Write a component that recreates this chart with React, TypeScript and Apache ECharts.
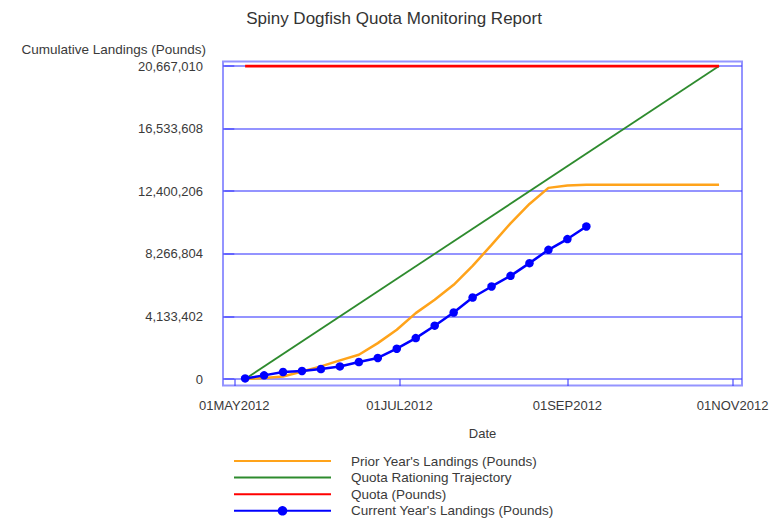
import React, { useEffect, useRef } from "react";
import * as echarts from "echarts";

const FONT = "'Liberation Sans', Arial, sans-serif";

const titleText = "Spiny Dogfish Quota Monitoring Report";
const yAxisName = "Cumulative Landings (Pounds)";
const xAxisName = "Date";

const quota = 20667010;
const yTickInterval = 4133402;

const originDate = "2012-05-01";
const xTickDates = ["2012-05-01", "2012-07-01", "2012-09-01", "2012-11-01"];
const monthNames = ["JAN", "FEB", "MAR", "APR", "MAY", "JUN", "JUL", "AUG", "SEP", "OCT", "NOV", "DEC"];

const priorDates = [
  "2012-05-05", "2012-05-12", "2012-05-19", "2012-05-26", "2012-06-02", "2012-06-09",
  "2012-06-16", "2012-06-23", "2012-06-30", "2012-07-07", "2012-07-14", "2012-07-21",
  "2012-07-28", "2012-08-04", "2012-08-11", "2012-08-18", "2012-08-25", "2012-09-01",
  "2012-09-08", "2012-09-15", "2012-09-22", "2012-09-29", "2012-10-06", "2012-10-13",
  "2012-10-20", "2012-10-27",
];
const priorValues = [
  0, 70000, 170000, 500000, 830000, 1230000, 1600000, 2370000, 3250000, 4350000,
  5230000, 6220000, 7470000, 8860000, 10280000, 11560000, 12620000, 12780000,
  12820000, 12820000, 12820000, 12820000, 12820000, 12820000, 12820000, 12820000,
];

const currentDates = [
  "2012-05-05", "2012-05-12", "2012-05-19", "2012-05-26", "2012-06-02", "2012-06-09",
  "2012-06-16", "2012-06-23", "2012-06-30", "2012-07-07", "2012-07-14", "2012-07-21",
  "2012-07-28", "2012-08-04", "2012-08-11", "2012-08-18", "2012-08-25", "2012-09-01",
  "2012-09-08",
];
const currentValues = [
  40000, 240000, 460000, 530000, 660000, 830000, 1120000, 1390000, 2000000, 2700000,
  3520000, 4390000, 5380000, 6110000, 6810000, 7650000, 8530000, 9240000, 10070000,
];

const trajectoryDates = ["2012-05-05", "2012-10-27"];
const trajectoryValues = [0, 20667010];

const quotaDates = ["2012-05-05", "2012-10-27"];
const quotaValues = [20667010, 20667010];

const seriesNames = [
  "Prior Year's Landings (Pounds)",
  "Quota Rationing Trajectory",
  "Quota (Pounds)",
  "Current Year's Landings (Pounds)",
];

const DAY = 86400000;

function utcTime(s: string): number {
  const [y, m, d] = s.split("-").map(Number);
  return Date.UTC(y, m - 1, d);
}

// day offset from origin date
function dayOf(s: string): number {
  return Math.round((utcTime(s) - utcTime(originDate)) / DAY);
}

function fmtDay(v: number): string {
  const d = new Date(utcTime(originDate) + Math.round(v) * DAY);
  const dd = String(d.getUTCDate()).padStart(2, "0");
  return dd + monthNames[d.getUTCMonth()] + d.getUTCFullYear();
}

function pair(dates: string[], values: number[]) {
  return dates.map((d, i) => [dayOf(d), values[i]]);
}

export default function App() {
  const ref = useRef<HTMLDivElement>(null);

  useEffect(() => {
    if (!ref.current) return;
    const chart = echarts.init(ref.current, null, { renderer: "svg" });
    const xMin = dayOf("2012-05-01") - 4.17;
    const xMax = dayOf("2012-11-01") + 3.47;
    const xTicks = xTickDates.map(dayOf);
    const gridColor = "rgba(60,60,255,0.55)";
    const textColor = "#3a3a3a";
    const hiddenSymbol = { color: "rgba(0,0,0,0)", opacity: 0, borderWidth: 0 };

    chart.setOption({
      animation: false,
      backgroundColor: "#ffffff",
      title: {
        text: titleText,
        left: 394,
        top: 10,
        padding: 0,
        textAlign: "center",
        textStyle: { fontFamily: FONT, fontSize: 17, fontWeight: "normal", color: "#333333" },
      },
      legend: {
        orient: "vertical",
        left: 233,
        top: 454,
        width: 400,
        height: 100,
        padding: 0,
        itemWidth: 97,
        itemHeight: 12,
        itemGap: 2.6,
        data: [
          { name: seriesNames[0], itemStyle: hiddenSymbol },
          { name: seriesNames[1], itemStyle: hiddenSymbol },
          { name: seriesNames[2], itemStyle: hiddenSymbol },
          { name: seriesNames[3] },
        ],
        textStyle: { fontFamily: FONT, fontSize: 13.5, color: textColor, padding: [0, 0, 0, 15] },
      },
      grid: { left: 223, right: 32, top: 66, bottom: 142, containLabel: false },
      xAxis: {
        type: "value",
        min: xMin,
        max: xMax,
        offset: 6.5,
        name: xAxisName,
        nameLocation: "middle",
        nameGap: 41,
        nameTextStyle: { fontFamily: FONT, fontSize: 13, color: textColor },
        axisLine: { show: false },
        axisTick: {
          show: true,
          length: 7,
          customValues: xTicks,
          lineStyle: { color: gridColor, width: 2 },
        },
        axisLabel: {
          customValues: xTicks,
          margin: 13,
          fontFamily: FONT,
          fontSize: 13,
          color: textColor,
          formatter: (v: number) => fmtDay(v),
        },
        splitLine: { show: false },
      },
      yAxis: {
        type: "value",
        min: 0,
        max: quota,
        interval: yTickInterval,
        axisLine: { show: false },
        axisTick: { show: true, length: 10, lineStyle: { color: gridColor, width: 2 } },
        axisLabel: {
          margin: 20,
          fontFamily: FONT,
          fontSize: 13,
          color: textColor,
          formatter: (v: number) => Math.round(v).toLocaleString("en-US"),
        },
        splitLine: { show: true, lineStyle: { color: gridColor, width: 2 } },
      },
      graphic: [
        {
          type: "rect",
          shape: { x: 223, y: 61.5, width: 519, height: 324 },
          style: { fill: "none", stroke: gridColor, lineWidth: 2 },
          z: 1,
          silent: true,
        },
        {
          type: "text",
          x: 206,
          y: 49,
          style: {
            text: yAxisName,
            fontFamily: FONT,
            fontSize: 13.5,
            fill: textColor,
            align: "right",
            verticalAlign: "middle",
          },
          silent: true,
        },
      ],
      series: [
        {
          name: seriesNames[0],
          type: "line",
          data: pair(priorDates, priorValues),
          symbol: "none",
          lineStyle: { color: "#ffa31a", width: 2.5 },
          itemStyle: { color: "#ffa31a" },
          z: 3,
        },
        {
          name: seriesNames[1],
          type: "line",
          data: pair(trajectoryDates, trajectoryValues),
          symbol: "none",
          lineStyle: { color: "#2e8b2e", width: 1.8 },
          itemStyle: { color: "#2e8b2e" },
          z: 3,
        },
        {
          name: seriesNames[2],
          type: "line",
          data: pair(quotaDates, quotaValues),
          symbol: "none",
          lineStyle: { color: "#ff0000", width: 3 },
          itemStyle: { color: "#ff0000" },
          z: 4,
        },
        {
          name: seriesNames[3],
          type: "line",
          data: pair(currentDates, currentValues),
          symbol: "circle",
          symbolSize: 8.5,
          lineStyle: { color: "#0000ff", width: 2.5 },
          itemStyle: { color: "#0000ff" },
          z: 5,
        },
      ],
    });
    return () => chart.dispose();
  }, []);

  return (
    <div
      ref={ref}
      style={{ position: "fixed", left: 0, top: 0, width: 774, height: 521 }}
    />
  );
}
